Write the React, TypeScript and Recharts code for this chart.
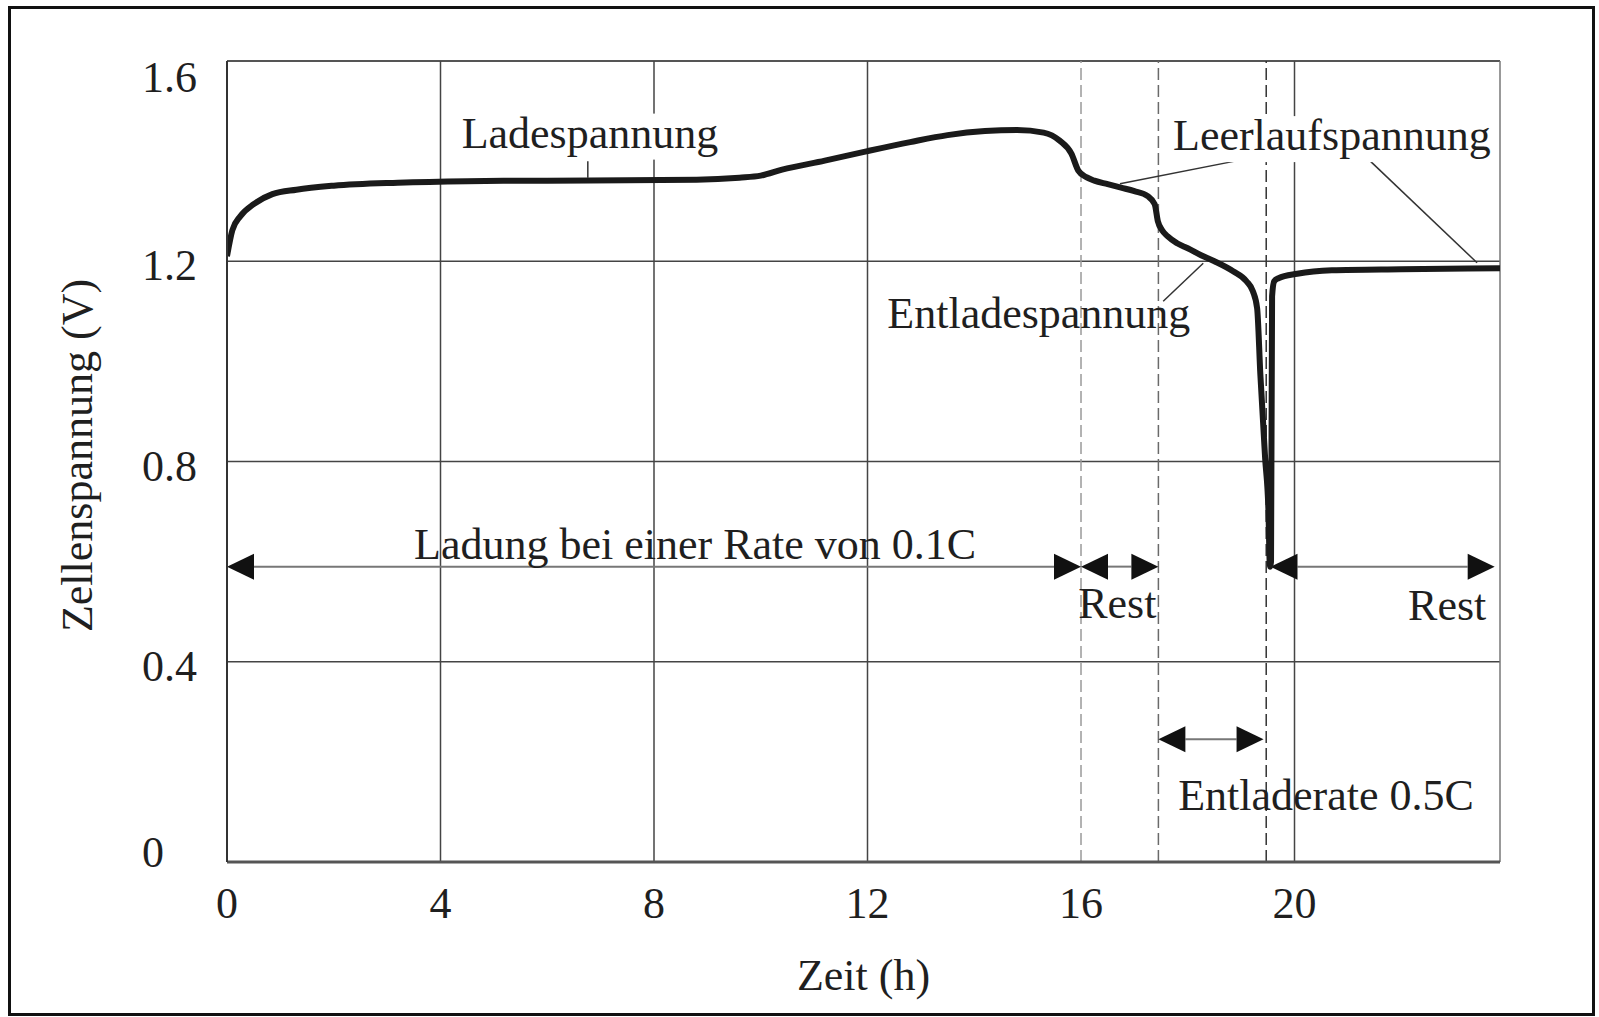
import React from 'react';
import { LineChart, Line, XAxis, YAxis, ReferenceLine, ReferenceDot } from 'recharts';

// Zellenspannung über der Zeit (Ladung 0.1C, Pause, Entladung 0.5C, Pause)
const hours = [
  0, 0.1, 0.25, 0.5, 0.85, 1.3, 2.0, 3.2, 4.5, 6.0, 7.5, 8.8, 9.6, 10.0, 10.4, 11.2, 12.0, 12.8,
  13.5, 14.2, 14.8, 15.3, 15.6, 15.82, 15.95, 16.1, 16.25, 16.5, 16.75, 17.0, 17.25, 17.38, 17.44,
  17.52, 17.62, 17.8, 18.0, 18.25, 18.5, 18.85, 19.1, 19.22, 19.3, 19.36, 19.45, 19.51, 19.54,
  19.56, 19.58, 19.62, 19.7, 20.05, 20.7, 22.0, 23.85,
];
const voltage = [
  1.21, 1.262, 1.29, 1.314, 1.334, 1.343, 1.351, 1.357, 1.36, 1.361, 1.362, 1.363, 1.367, 1.371,
  1.383, 1.401, 1.42, 1.438, 1.452, 1.46, 1.462, 1.457, 1.441, 1.415, 1.381, 1.368, 1.361, 1.354,
  1.347, 1.34, 1.33, 1.314, 1.28, 1.262, 1.25, 1.236, 1.226, 1.212, 1.2, 1.18, 1.16, 1.14, 1.106,
  0.974, 0.806, 0.707, 0.59, 0.6, 1.13, 1.16, 1.166, 1.175, 1.182, 1.184, 1.186,
];

const xTicks = [0, 4, 8, 12, 16, 20];
const yTicks = [0, 0.4, 0.8, 1.2, 1.6];
const solidHours = [4, 8, 12, 20];
const dashedHours = [16, 17.45, 19.47];
const dashedColors = ['#9a9a9a', '#6a6a6a', '#333'];
const gridVolts = [0.4, 0.8, 1.2];

const texts = [
  { text: 'Ladespannung', t: 6.8, v: 1.427, bg: 255 },
  { text: 'Leerlaufspannung', t: 20.7, v: 1.422, bg: 318 },
  { text: 'Entladespannung', t: 15.21, v: 1.067, bg: 0 },
  { text: 'Ladung bei einer Rate von 0.1C', t: 8.77, v: 0.605, bg: 0 },
  { text: 'Rest', t: 16.68, v: 0.487, bg: 0 },
  { text: 'Rest', t: 22.86, v: 0.484, bg: 0 },
  { text: 'Entladerate 0.5C', t: 20.59, v: 0.103, bg: 0 },
];

const leaders = [
  [{ x: 6.76, y: 1.4 }, { x: 6.76, y: 1.367 }],
  [{ x: 19.36, y: 1.41 }, { x: 16.73, y: 1.355 }],
  [{ x: 21.42, y: 1.4 }, { x: 23.42, y: 1.197 }],
  [{ x: 17.54, y: 1.12 }, { x: 18.29, y: 1.196 }],
];

const arrows = [
  { from: 0, to: 16, v: 0.59 },
  { from: 16, to: 17.45, v: 0.59 },
  { from: 19.55, to: 23.75, v: 0.59 },
  { from: 17.45, to: 19.42, v: 0.245 },
];

const data = hours.map((t, i) => ({ t, v: voltage[i] }));

const FONT = '"Liberation Serif", "Times New Roman", serif';
const INK = '#1f1f1f';

const XTick = ({ x, y, payload }: any) => (
  <text x={x} y={y + 56} textAnchor="middle" fontFamily={FONT} fontSize={44} fill={INK}>
    {payload.value}
  </text>
);

const YTick = ({ x, y, payload }: any) => {
  const v = payload.value;
  const dy = v === 0 ? 5 : v === 1.6 ? 31 : 19;
  return (
    <text x={x - 85} y={y + dy} textAnchor="start" fontFamily={FONT} fontSize={44} fill={INK}>
      {v === 0 ? '0' : v.toFixed(1)}
    </text>
  );
};

const arrowShape = (props: any) => {
  const { x1, y1, x2, y2 } = props;
  const len = 27;
  const half = 13;
  return (
    <g>
      <line x1={x1 + len} y1={y1} x2={x2 - len} y2={y2} stroke="#777" strokeWidth={2} />
      <polygon points={`${x1},${y1} ${x1 + len},${y1 - half} ${x1 + len},${y1 + half}`} fill="#111" />
      <polygon points={`${x2},${y2} ${x2 - len},${y2 - half} ${x2 - len},${y2 + half}`} fill="#111" />
    </g>
  );
};

const textShape = (item: (typeof texts)[number]) => (props: any) => (
  <g>
    {item.bg > 0 && (
      <rect x={props.cx - item.bg / 2 - 4} y={props.cy - 34} width={item.bg + 8} height={46} fill="#fff" />
    )}
    <text x={props.cx} y={props.cy} textAnchor="middle" fontFamily={FONT} fontSize={44} fill={INK}>
      {item.text}
    </text>
  </g>
);

const YTitle = (props: any) => {
  const vb = props.viewBox || { y: 61, height: 801 };
  const cy = vb.y + vb.height / 2 - 6;
  return (
    <text
      x={92}
      y={cy}
      transform={`rotate(-90 92 ${cy})`}
      textAnchor="middle"
      fontFamily={FONT}
      fontSize={44}
      fill={INK}
    >
      Zellenspannung (V)
    </text>
  );
};

export default function App() {
  return (
    <div style={{ position: 'absolute', left: 0, top: 0, width: 1599, height: 1017, background: '#fff' }}>
      <LineChart width={1599} height={1017} data={data} margin={{ top: 61, right: 99, left: 0, bottom: 0 }}>
        <XAxis
          dataKey="t"
          type="number"
          domain={[0, 23.85]}
          ticks={xTicks}
          allowDataOverflow
          height={155}
          tickSize={0}
          tickMargin={0}
          tickLine={false}
          axisLine={{ stroke: '#555', strokeWidth: 3 }}
          tick={<XTick />}
          label={{ value: 'Zeit (h)', position: 'insideBottom', offset: 27, fontSize: 44, fontFamily: FONT, fill: INK }}
        />
        <YAxis
          type="number"
          domain={[0, 1.6]}
          ticks={yTicks}
          allowDataOverflow
          width={227}
          tickSize={0}
          tickMargin={0}
          tickLine={false}
          axisLine={{ stroke: '#333', strokeWidth: 2 }}
          tick={<YTick />}
          label={{ content: <YTitle /> }}
        />

        {gridVolts.map((v) => (
          <ReferenceLine key={`h${v}`} y={v} stroke="#444" strokeWidth={1.5} ifOverflow="visible" />
        ))}
        <ReferenceLine y={1.6} stroke="#555" strokeWidth={2} ifOverflow="visible" />
        <ReferenceLine x={23.85} stroke="#777" strokeWidth={1.5} ifOverflow="visible" />
        {solidHours.map((h) => (
          <ReferenceLine key={`v${h}`} x={h} stroke="#444" strokeWidth={1.5} ifOverflow="visible" />
        ))}
        {dashedHours.map((h, i) => (
          <ReferenceLine
            key={`d${h}`}
            x={h}
            stroke={dashedColors[i]}
            strokeWidth={1.5}
            strokeDasharray="12 5"
            ifOverflow="visible"
          />
        ))}

        {texts.map((item, i) => (
          <ReferenceDot key={`t${i}`} x={item.t} y={item.v} r={0} ifOverflow="visible" shape={textShape(item)} />
        ))}

        {leaders.map((seg, i) => (
          <ReferenceLine key={`l${i}`} segment={seg} stroke="#333" strokeWidth={1.5} ifOverflow="visible" />
        ))}

        {arrows.map((a, i) => (
          <ReferenceLine
            key={`a${i}`}
            segment={[{ x: a.from, y: a.v }, { x: a.to, y: a.v }]}
            ifOverflow="visible"
            shape={arrowShape}
          />
        ))}

        <Line
          type="monotone"
          dataKey="v"
          stroke="#1a1a1a"
          strokeWidth={6}
          strokeLinejoin="round"
          dot={false}
          activeDot={false}
          isAnimationActive={false}
        />
      </LineChart>
      <div
        style={{
          position: 'absolute',
          left: 8,
          top: 6,
          width: 1587,
          height: 1010,
          border: '3px solid #111',
          boxSizing: 'border-box',
          pointerEvents: 'none',
        }}
      />
    </div>
  );
}
